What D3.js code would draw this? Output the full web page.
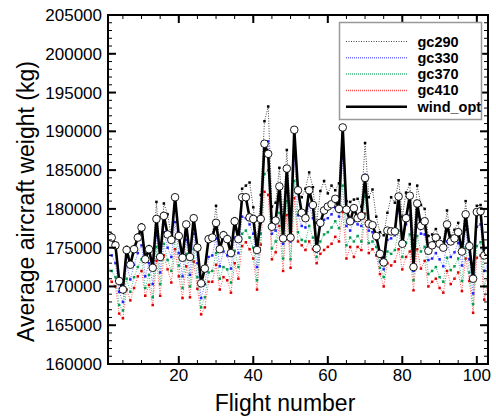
<!DOCTYPE html>
<html>
<head>
<meta charset="utf-8">
<script src="https://cdn.jsdelivr.net/npm/d3@7"></script>
<style>
  body { margin: 0; background: #fff; }
  svg { font-family: "Liberation Sans", Arial, sans-serif; }
</style>
</head>
<body>
<svg id="chart" width="496" height="417"></svg>
<script>
// values, flights 1..103 (kg)
var windOpt = [176600,176300,175300,170700,169600,174700,172800,174800,176300,177600,
  173500,174800,172400,178700,173800,179100,176700,176000,181500,176500,
  173700,178000,173800,178800,175000,170400,172300,176100,176300,178200,
  174800,176600,176100,174300,178400,176100,181500,181500,178900,178700,
  174700,178700,188400,187100,177700,178500,182900,176200,185200,176300,
  190200,182400,179500,178800,182400,180500,174900,178200,179800,180300,
  180600,181300,180000,190500,179900,178400,180100,178800,179100,184000,
  178100,177900,176500,174200,173100,177200,177100,177100,181600,175500,
  178800,181700,172500,180700,177800,178400,174600,175300,176300,175500,
  175000,178000,175800,176200,177000,174500,179300,175200,171000,179600,
  179700,174000,174500];

var gc290 = [176800,176700,175600,171000,169900,175100,173200,175200,176700,178000,
  174000,175200,172800,180900,174200,180700,179300,176400,181700,176800,
  174000,178300,174100,179100,175300,170700,172600,176400,176600,180400,
  175100,177000,176500,174700,178800,176500,182600,183000,183400,180200,
  175600,181800,191300,193200,180300,180800,185300,179000,187600,178800,
  190500,182800,181500,182600,184700,182800,178200,182300,183600,182000,
  183000,182400,183300,190700,181000,180900,181200,181300,180300,188500,
  181500,182500,179000,177000,176600,179500,181500,180800,183700,179000,
  182100,183200,176000,183000,180500,180000,176500,176700,177400,176300,
  175600,179800,176400,177300,178200,175000,181000,175700,171500,180400,
  180500,174600,175000];

var gc330 = [174200,174000,173000,169300,168000,172800,170900,172800,174300,175300,
  171300,173000,170300,176500,171800,177000,175000,173800,178300,174300,
  171300,176000,171500,176800,173000,168500,170300,173800,174000,176200,
  172600,174500,174000,172300,176300,174300,179000,178800,178000,176800,
  172500,178200,188000,188700,176800,177200,181800,175500,183500,175800,
  186800,179200,177800,177600,180500,178800,174500,177800,178600,178800,
  179300,180200,179000,186500,177800,177200,178400,178000,177800,184400,
  177200,177000,176000,173200,172200,176000,176200,176600,179800,175800,
  178000,179200,172000,179000,176800,176700,173400,173600,174300,173500,
  172600,175800,173800,174400,175600,172700,177300,173500,169100,177700,
  178000,172000,172600];

var gc370 = [172300,172000,171200,167600,166900,171000,169300,171200,172500,173500,
  169800,171500,168600,175100,170300,175500,173400,172000,176200,172700,
  169800,174200,170000,174800,171200,167300,168600,171800,172000,174300,
  171000,172500,172200,170500,174600,172500,176800,177200,176300,175000,
  170800,176800,184500,185000,174900,175800,179500,173600,181000,173500,
  183600,177000,176000,175800,177800,176300,173800,175800,176700,177000,
  177600,178400,177500,183000,175300,176300,175800,176500,175800,181600,
  175600,175800,175100,172400,171200,174500,174200,174700,177200,173800,
  175600,176700,170800,176500,174500,175100,171600,172000,172500,171200,
  170600,173700,172100,172600,173600,170700,175000,171800,167700,175200,
  175700,170000,171800];

var gc410 = [171000,170600,170000,166500,165900,169600,168200,169800,171300,172000,
  168800,170200,167600,173300,168800,174000,172200,170500,174800,171300,
  168500,172600,168600,173200,169700,166400,167300,170600,170600,172800,
  169600,171200,170800,169200,173000,171000,175200,175700,174800,173600,
  169600,175400,182200,181800,173500,174400,177800,172000,179200,172400,
  181400,175800,175300,174700,175800,174800,173000,174200,174700,175100,
  175500,176400,175800,179600,173600,175100,173800,175100,174700,179400,
  174300,174800,174000,171600,170000,173000,172700,173200,174800,172200,
  173800,174500,169500,174800,172300,173300,170000,170600,171000,169800,
  169200,172000,170300,171000,171800,169400,173600,170700,166600,173700,
  174000,168300,170800];

var seriesNames = ["gc290", "gc330", "gc370", "gc410", "wind_opt"];
var yTicks = [160000,165000,170000,175000,180000,185000,190000,195000,200000,205000];
var xTicks = [20, 40, 60, 80, 100];

var svg = d3.select("#chart");
var plotL = 108, plotR = 488, plotT = 15, plotB = 364;

var flights = d3.range(1, windOpt.length + 1);
var x = d3.scaleLinear().domain([1, 103]).range([plotL, plotR]);
var y = d3.scaleLinear().domain([160000, 205000]).range([plotB, plotT]);

svg.append("defs").append("clipPath").attr("id", "plotclip")
  .append("rect").attr("x", plotL).attr("y", plotT)
  .attr("width", plotR - plotL).attr("height", plotB - plotT);

var plot = svg.append("g").attr("clip-path", "url(#plotclip)");

var dotted = [
  { vals: gc290, line: "#444", mark: "#000" },
  { vals: gc330, line: "#7070ff", mark: "#2222ff" },
  { vals: gc370, line: "#40bb80", mark: "#00a050" },
  { vals: gc410, line: "#ff5050", mark: "#e00000" }
];

var line = d3.line().x(function(d, i) { return x(flights[i]); }).y(function(d) { return y(d); });

// draw the dotted ones back to front so gc290 sits on top of the others
dotted.slice().reverse().forEach(function(s) {
  plot.append("path").datum(s.vals)
    .attr("d", line)
    .attr("fill", "none")
    .attr("stroke", s.line)
    .attr("stroke-width", 1)
    .attr("stroke-dasharray", "1,1.5");
  plot.selectAll(null).data(s.vals).enter().append("rect")
    .attr("x", function(d, i) { return x(flights[i]) - 1.25; })
    .attr("y", function(d) { return y(d) - 1.25; })
    .attr("width", 2.5).attr("height", 2.5)
    .attr("fill", s.mark);
});

plot.append("path").datum(windOpt)
  .attr("d", line)
  .attr("fill", "none")
  .attr("stroke", "#000")
  .attr("stroke-width", 2.6)
  .attr("stroke-linejoin", "miter");

plot.selectAll(null).data(windOpt).enter().append("circle")
  .attr("cx", function(d, i) { return x(flights[i]); })
  .attr("cy", function(d) { return y(d); })
  .attr("r", 3.8)
  .attr("fill", "#fff")
  .attr("stroke", "#000")
  .attr("stroke-width", 0.9);

// ticks on all four sides, pointing inward
var xMinor = d3.range(5, 103, 5);
var yMinor = d3.range(160000, 205001, 1000);

function tickLines(vals, len, width) {
  vals.forEach(function(v) {
    svg.append("line").attr("x1", x(v)).attr("x2", x(v)).attr("y1", plotB).attr("y2", plotB - len)
      .attr("stroke", "#000").attr("stroke-width", width);
    svg.append("line").attr("x1", x(v)).attr("x2", x(v)).attr("y1", plotT).attr("y2", plotT + len)
      .attr("stroke", "#000").attr("stroke-width", width);
  });
}
tickLines(xMinor, 4, 1);
tickLines(xTicks, 8, 2);

function yTickLines(vals, len, width) {
  vals.forEach(function(v) {
    svg.append("line").attr("x1", plotL).attr("x2", plotL + len).attr("y1", y(v)).attr("y2", y(v))
      .attr("stroke", "#000").attr("stroke-width", width);
    svg.append("line").attr("x1", plotR).attr("x2", plotR - len).attr("y1", y(v)).attr("y2", y(v))
      .attr("stroke", "#000").attr("stroke-width", width);
  });
}
yTickLines(yMinor, 4, 1);
yTickLines(yTicks, 8, 2);

svg.append("rect").attr("x", plotL).attr("y", plotT)
  .attr("width", plotR - plotL).attr("height", plotB - plotT)
  .attr("fill", "none").attr("stroke", "#000").attr("stroke-width", 2);

// tick labels
svg.selectAll(".ylab").data(yTicks).enter().append("text")
  .attr("x", plotL - 6).attr("y", function(d) { return y(d) + 6; })
  .attr("text-anchor", "end").attr("font-size", 17)
  .text(function(d) { return d; });

svg.selectAll(".xlab").data(xTicks).enter().append("text")
  .attr("x", function(d) { return x(d); }).attr("y", plotB + 17)
  .attr("text-anchor", "middle").attr("font-size", 17)
  .text(function(d) { return d; });

svg.append("text").attr("x", (plotL + plotR) / 2 - 13).attr("y", 411)
  .attr("text-anchor", "middle").attr("font-size", 23).text("Flight number");

svg.append("text").attr("transform", "translate(34," + ((plotT + plotB) / 2 + 12) + ") rotate(-90)")
  .attr("text-anchor", "middle").attr("font-size", 23).text("Average aircraft weight (kg)");

// legend
var lg = svg.append("g");
lg.append("rect").attr("x", 339.5).attr("y", 22.5).attr("width", 142).attr("height", 97)
  .attr("fill", "#fff").attr("stroke", "#999").attr("stroke-width", 1.5);

var legendStyle = [
  { c: "#444", w: 1, dash: "1,1.5" },
  { c: "#7070ff", w: 1.5, dash: "1,1" },
  { c: "#40bb80", w: 1.5, dash: "1,1" },
  { c: "#ff5050", w: 1.5, dash: "1,1" },
  { c: "#000", w: 2.6, dash: null }
];
seriesNames.forEach(function(name, i) {
  var yy = 41.5 + i * 16.3;
  lg.append("line").attr("x1", 346).attr("x2", 407).attr("y1", yy).attr("y2", yy)
    .attr("stroke", legendStyle[i].c).attr("stroke-width", legendStyle[i].w)
    .attr("stroke-dasharray", legendStyle[i].dash);
  lg.append("text").attr("x", 417.5).attr("y", yy + 5)
    .attr("font-size", 14.5).attr("font-weight", "bold").text(name);
});
</script>
</body>
</html>
